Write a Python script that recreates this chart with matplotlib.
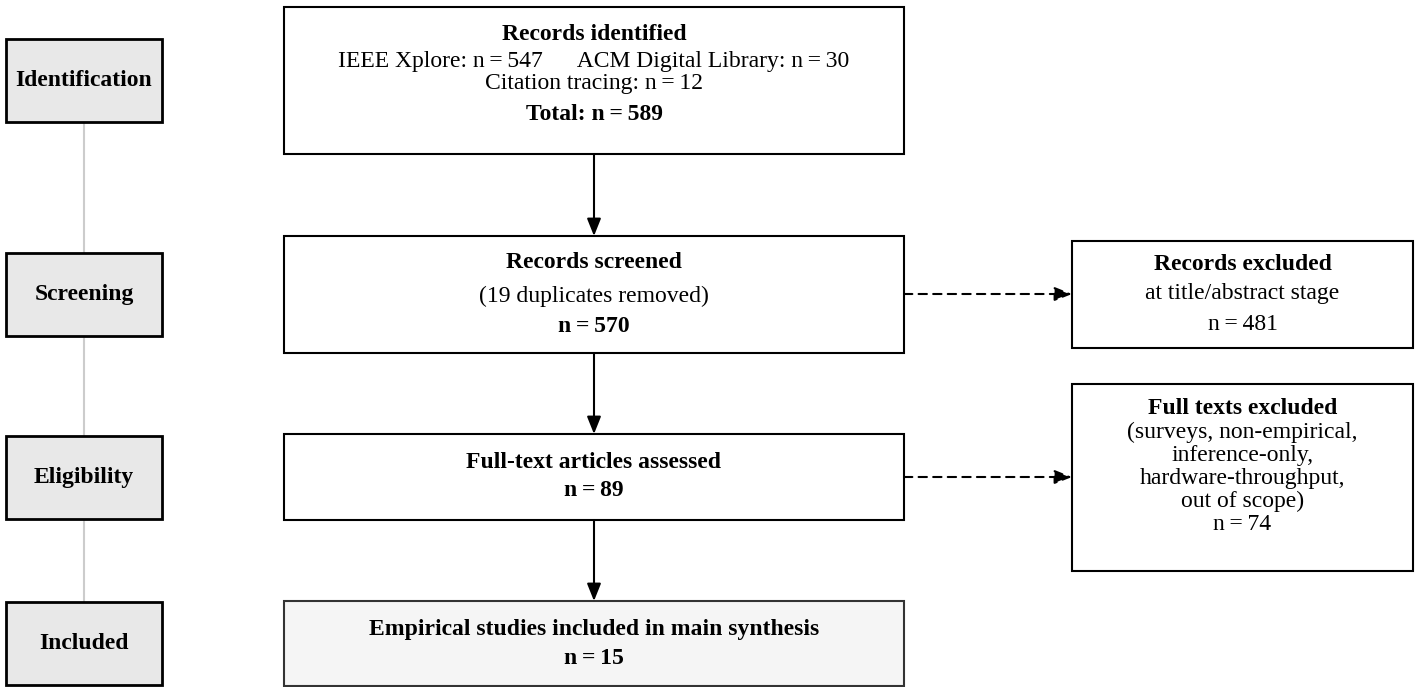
import matplotlib
matplotlib.use("Agg")
import matplotlib.pyplot as plt
from matplotlib.patches import Rectangle, FancyArrowPatch

plt.rcParams['font.family'] = ['Liberation Serif', 'DejaVu Serif']

# ---- data ----
stages = ["Identification", "Screening", "Eligibility", "Included"]
sources = ["IEEE Xplore", "ACM Digital Library", "Citation tracing"]
source_counts = [547, 30, 12]
total_records = 589
duplicates_removed = 19
screened = 570
excluded_title = 481
assessed = 89
excluded_full = 74
excluded_full_reasons = ["(surveys, non-empirical,", "inference-only,",
                         "hardware-throughput,", "out of scope)"]
included = 15

W, H = 1424, 687
fig = plt.figure(figsize=(W / 100, H / 100), dpi=100)
ax = fig.add_axes([0, 0, 1, 1])
ax.set_xlim(0, W)
ax.set_ylim(H, 0)
ax.axis('off')

FS = 17
EQ = "\u2009=\u2009"


def n(v):
    return f"n{EQ}{v}"


def box(x0, y0, x1, y1, fc='white', ec='black', lw=1.5, z=2):
    ax.add_patch(Rectangle((x0, y0), x1 - x0, y1 - y0, facecolor=fc,
                           edgecolor=ec, linewidth=lw, zorder=z))


def txt(x, y, s, bold=False):
    ax.text(x, y, s, ha='center', va='center', fontsize=FS,
            fontweight='bold' if bold else 'normal', zorder=5)


# main boxes (x0, y0, x1, y1)
mx0, mx1 = 284, 904
b_ident = (mx0, 7, mx1, 154)
b_screen = (mx0, 236, mx1, 353)
b_assess = (mx0, 434, mx1, 520)
b_incl = (mx0, 601, mx1, 686)
rx0, rx1 = 1072, 1413
b_exc1 = (rx0, 241, rx1, 348)
b_exc2 = (rx0, 384, rx1, 571)

main_boxes = [b_ident, b_screen, b_assess, b_incl]

# stage boxes and gray spine
sx0, sx1, sh = 6, 162, 83
centers = [(b[1] + b[3]) / 2 for b in main_boxes]
ax.plot([(sx0 + sx1) / 2] * 2, [centers[0], centers[-1]], color='#cccccc',
        lw=1.5, zorder=1)
for name, c in zip(stages, centers):
    box(sx0, c - sh / 2, sx1, c + sh / 2, fc='#e8e8e8', lw=2)
    txt((sx0 + sx1) / 2, c, name, bold=True)

# main boxes
for b in [b_ident, b_screen, b_assess]:
    box(*b)
box(*b_incl, fc='#f5f5f5', ec='#333333')
box(*b_exc1)
box(*b_exc2)

cx = (mx0 + mx1) / 2
rcx = (rx0 + rx1) / 2

# Identification text
txt(cx, 35, "Records identified", bold=True)
txt(cx, 61, f"{sources[0]}: {n(source_counts[0])}      "
            f"{sources[1]}: {n(source_counts[1])}")
txt(cx, 83, f"{sources[2]}: {n(source_counts[2])}")
txt(cx, 115, f"Total: {n(total_records)}", bold=True)

# Screening
txt(cx, 263, "Records screened", bold=True)
txt(cx, 296, f"({duplicates_removed} duplicates removed)")
txt(cx, 327, n(screened), bold=True)

# Excluded title/abstract
txt(rcx, 265, "Records excluded", bold=True)
txt(rcx, 293, "at title/abstract stage")
txt(rcx, 324, n(excluded_title))

# Assessed
txt(cx, 462, "Full-text articles assessed", bold=True)
txt(cx, 491, n(assessed), bold=True)

# Excluded full text
txt(rcx, 408, "Full texts excluded", bold=True)
for i, r in enumerate(excluded_full_reasons):
    txt(rcx, 432 + 23.3 * i, r)
txt(rcx, 525, n(excluded_full))

# Included
txt(cx, 629, "Empirical studies included in main synthesis", bold=True)
txt(cx, 658, n(included), bold=True)


def arrow(p0, p1, dashed=False):
    a = FancyArrowPatch(p0, p1, arrowstyle='-|>,head_length=7,head_width=2.8',
                        mutation_scale=1.5, color='black', lw=1.5,
                        linestyle=(0, (4, 3)) if dashed else '-',
                        shrinkA=0, shrinkB=0, zorder=3)
    ax.add_patch(a)


arrow((cx, b_ident[3]), (cx, b_screen[1]))
arrow((cx, b_screen[3]), (cx, b_assess[1]))
arrow((cx, b_assess[3]), (cx, b_incl[1]))
arrow((mx1, 294), (rx0, 294), dashed=True)
arrow((mx1, 477), (rx0, 477), dashed=True)

fig.savefig("out.png", dpi=100, facecolor='white')
